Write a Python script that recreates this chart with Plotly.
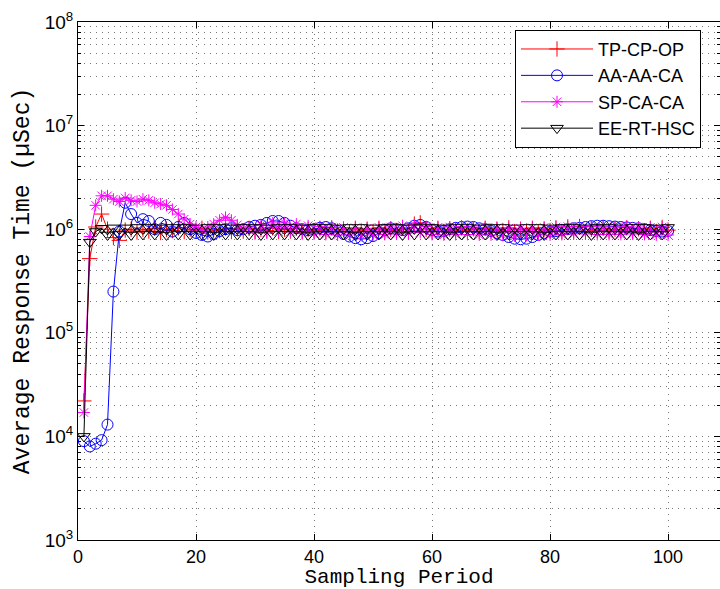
import plotly.graph_objects as go

periods = list(range(1, 101))

tp_cp_op = [2.2e4, 5.2e5, 1.05e6, 1.4e6, 1.0e6, 8.3e5, 7.8e5, 9.8e5, 1.0e6, 9.4e5,
            1.0e6, 9.6e5, 1.02e6, 9.3e5, 1.0e6, 9.7e5, 1.03e6, 9.5e5, 1.0e6, 9.6e5,
            1.02e6, 9.4e5, 1.0e6, 9.7e5, 1.03e6, 9.5e5, 1.01e6, 9.6e5, 1.02e6, 9.4e5,
            1.0e6, 9.7e5, 1.03e6, 9.5e5, 1.0e6, 9.6e5, 1.02e6, 9.4e5, 1.0e6, 9.7e5,
            1.01e6, 9.5e5, 1.03e6, 9.6e5, 1.0e6, 9.4e5, 1.02e6, 9.6e5, 1.0e6, 9.5e5,
            1.02e6, 9.6e5, 1.0e6, 9.7e5, 1.03e6, 9.5e5, 1.12e6, 1.15e6, 1.0e6, 9.6e5,
            1.02e6, 9.5e5, 1.0e6, 9.7e5, 1.03e6, 9.6e5, 1.01e6, 9.5e5, 1.02e6, 9.6e5,
            1.0e6, 9.7e5, 1.03e6, 9.5e5, 1.0e6, 9.6e5, 1.02e6, 9.4e5, 1.0e6, 9.7e5,
            1.03e6, 9.5e5, 1.05e6, 9.6e5, 1.06e6, 9.5e5, 1.0e6, 9.7e5, 1.02e6, 9.6e5,
            1.0e6, 9.7e5, 1.03e6, 9.5e5, 1.01e6, 9.6e5, 1.02e6, 9.5e5, 1.04e6, 9.8e5]

aa_aa_ca = [9.0e3, 8.0e3, 8.5e3, 9.2e3, 1.3e4, 2.5e5, 9.5e5, 1.8e6, 1.4e6, 1.15e6,
            1.25e6, 1.2e6, 1.0e6, 1.15e6, 1.1e6, 9.5e5, 1.05e6, 1.15e6, 1.0e6, 9.2e5,
            8.8e5, 8.5e5, 9.0e5, 9.6e5, 1.0e6, 1.02e6, 9.8e5, 1.0e6, 1.05e6, 1.08e6,
            1.1e6, 1.15e6, 1.2e6, 1.2e6, 1.15e6, 1.08e6, 1.02e6, 1.0e6, 9.8e5, 1.0e6,
            1.03e6, 1.05e6, 1.02e6, 9.6e5, 9.0e5, 8.5e5, 8.2e5, 8.0e5, 8.2e5, 8.6e5,
            9.2e5, 9.8e5, 1.02e6, 1.0e6, 9.8e5, 1.02e6, 1.08e6, 1.1e6, 1.05e6, 9.8e5,
            9.5e5, 9.6e5, 1.0e6, 1.03e6, 1.05e6, 1.06e6, 1.05e6, 1.02e6, 1.0e6, 9.6e5,
            9.2e5, 8.8e5, 8.4e5, 8.1e5, 8.0e5, 8.1e5, 8.4e5, 8.8e5, 9.2e5, 9.5e5,
            9.6e5, 9.8e5, 1.0e6, 1.02e6, 1.03e6, 1.05e6, 1.07e6, 1.08e6, 1.08e6, 1.07e6,
            1.06e6, 1.05e6, 1.04e6, 1.03e6, 1.02e6, 1.0e6, 9.8e5, 9.6e5, 9.5e5, 9.6e5]

sp_ca_ca = [1.7e4, 8.5e5, 1.7e6, 2.1e6, 2.1e6, 1.95e6, 1.85e6, 2.0e6, 1.9e6, 1.85e6,
            1.95e6, 1.9e6, 1.8e6, 1.75e6, 1.7e6, 1.55e6, 1.4e6, 1.25e6, 1.12e6, 1.05e6,
            9.8e5, 1.05e6, 1.12e6, 1.22e6, 1.3e6, 1.22e6, 1.1e6, 1.0e6, 1.05e6, 9.2e5,
            1.1e6, 9.2e5, 1.15e6, 9.5e5, 1.15e6, 9.4e5, 1.12e6, 9.2e5, 1.08e6, 9.0e5,
            1.06e6, 8.9e5, 1.05e6, 8.8e5, 1.04e6, 8.8e5, 1.03e6, 8.7e5, 1.02e6, 8.8e5,
            1.04e6, 8.9e5, 1.05e6, 9.0e5, 1.08e6, 9.2e5, 1.1e6, 9.3e5, 1.06e6, 8.9e5,
            1.04e6, 8.8e5, 1.05e6, 8.9e5, 1.06e6, 8.9e5, 1.05e6, 8.8e5, 1.04e6, 8.8e5,
            1.03e6, 8.7e5, 1.02e6, 8.6e5, 1.02e6, 8.7e5, 1.03e6, 8.8e5, 1.04e6, 8.8e5,
            1.05e6, 8.9e5, 1.06e6, 9.0e5, 1.07e6, 9.0e5, 1.06e6, 8.9e5, 1.05e6, 8.9e5,
            1.05e6, 8.9e5, 1.06e6, 9.0e5, 1.05e6, 8.9e5, 1.04e6, 8.8e5, 1.05e6, 8.8e5]

ee_rt_hsc = [1.0e4, 7.5e5, 9.5e5, 1.02e6, 8.8e5, 1.03e6, 8.9e5, 1.03e6, 8.8e5, 1.04e6,
             8.9e5, 1.04e6, 8.9e5, 1.03e6, 8.8e5, 1.04e6, 8.9e5, 1.04e6, 8.9e5, 1.03e6,
             8.9e5, 1.04e6, 8.8e5, 1.04e6, 8.9e5, 1.03e6, 8.9e5, 1.04e6, 8.9e5, 1.04e6,
             8.8e5, 1.03e6, 8.9e5, 1.04e6, 8.9e5, 1.04e6, 8.9e5, 1.03e6, 8.8e5, 1.04e6,
             8.9e5, 1.04e6, 8.9e5, 1.03e6, 8.9e5, 1.04e6, 8.8e5, 1.04e6, 8.9e5, 1.03e6,
             8.9e5, 1.04e6, 8.9e5, 1.04e6, 8.8e5, 1.03e6, 8.9e5, 1.05e6, 8.9e5, 1.04e6,
             8.9e5, 1.03e6, 8.8e5, 1.04e6, 8.9e5, 1.04e6, 8.9e5, 1.03e6, 8.9e5, 1.04e6,
             8.8e5, 1.04e6, 8.9e5, 1.03e6, 8.9e5, 1.04e6, 8.9e5, 1.04e6, 8.8e5, 1.03e6,
             8.9e5, 1.04e6, 8.9e5, 1.04e6, 8.9e5, 1.03e6, 8.8e5, 1.04e6, 8.9e5, 1.04e6,
             8.9e5, 1.03e6, 8.9e5, 1.04e6, 8.8e5, 1.04e6, 8.9e5, 1.03e6, 8.9e5, 1.04e6]

series_names = ["TP-CP-OP", "AA-AA-CA", "SP-CA-CA", "EE-RT-HSC"]
series_values = [tp_cp_op, aa_aa_ca, sp_ca_ca, ee_rt_hsc]
series_colors = ["#ff0000", "#0000ff", "#ff00ff", "#000000"]
series_symbols = ["cross-thin-open", "circle-open", "asterisk-open", "triangle-down-open"]
series_sizes = [11, 11, 10, 11]

x_ticks = [0, 20, 40, 60, 80, 100]
y_major = [1e3, 1e4, 1e5, 1e6, 1e7, 1e8]
y_labels = ["10<sup>3</sup>", "10<sup>4</sup>", "10<sup>5</sup>",
            "10<sup>6</sup>", "10<sup>7</sup>", "10<sup>8</sup>"]
y_minor = [m * 10 ** e for e in range(3, 8) for m in range(2, 10)]

fig = go.Figure()
for name, vals, col, sym, sz in zip(series_names, series_values, series_colors,
                                    series_symbols, series_sizes):
    fig.add_trace(go.Scatter(
        x=periods, y=vals, name=name, mode="lines+markers",
        line=dict(color=col, width=1),
        marker=dict(symbol=sym, size=sz, color=col, line=dict(color=col, width=1)),
    ))

grid_dash = "1px,5px"
mono = "Liberation Mono, Courier New, monospace"
fig.update_layout(
    width=720, height=589,
    margin=dict(l=78, r=0, t=22, b=49),
    paper_bgcolor="white", plot_bgcolor="white",
    font=dict(family="Liberation Sans, Arial, sans-serif", size=19, color="black"),
    showlegend=True,
    legend=dict(
        x=0.6807, y=0.985, xanchor="left", yanchor="top",
        bgcolor="white", bordercolor="black", borderwidth=1,
        font=dict(family="Liberation Sans, Arial, sans-serif", size=18, color="black"),
        itemwidth=72,
    ),
    xaxis=dict(
        range=[0, 108.8], tickvals=x_ticks,
        showline=True, linecolor="black", linewidth=1, mirror="allticks",
        ticks="inside", ticklen=6, tickcolor="black",
        tickfont=dict(size=18),
        showgrid=True, gridcolor="#777777", gridwidth=1, griddash=grid_dash,
        zeroline=False,
        title=dict(text="Sampling Period", standoff=5,
                   font=dict(family=mono, size=21)),
    ),
    yaxis=dict(
        type="log", range=[3, 8], tickvals=y_major, ticktext=y_labels,
        showline=True, linecolor="black", linewidth=1, mirror="allticks",
        ticks="inside", ticklen=6, tickcolor="black",
        showgrid=True, gridcolor="#777777", gridwidth=1, griddash=grid_dash,
        zeroline=False,
        minor=dict(tickvals=y_minor, ticks="inside", ticklen=3, tickcolor="black",
                   showgrid=True, gridcolor="#777777", gridwidth=1, griddash=grid_dash),
        title=dict(text="Average Response Time (µSec)", standoff=8,
                   font=dict(family=mono, size=23)),
    ),
)

fig.write_html("out.html")
